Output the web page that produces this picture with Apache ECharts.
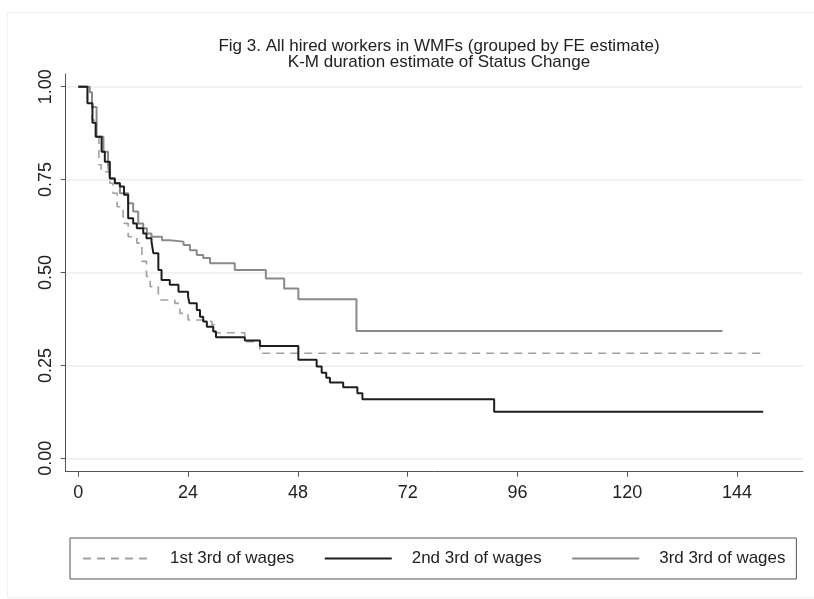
<!DOCTYPE html>
<html>
<head>
<meta charset="utf-8">
<script src="https://cdn.jsdelivr.net/npm/echarts@6/dist/echarts.min.js"></script>
<style>
html,body{margin:0;padding:0;background:#fff;}
#chart{width:814px;height:599px;}
</style>
</head>
<body>
<div id="chart"></div>
<script>
const titleLines = ['Fig 3. All hired workers in WMFs (grouped by FE estimate)', 'K-M duration estimate of Status Change'];
const seriesNames = ['1st 3rd of wages', '2nd 3rd of wages', '3rd 3rd of wages'];
const xTicks = [0, 24, 48, 72, 96, 120, 144];
const yTicks = [0, 0.25, 0.5, 0.75, 1];

// [time (months), survival]
const first = [[0,1],[2,0.96],[3,0.91],[3.8,0.87],[4.5,0.79],[5,0.771],[6.9,0.74],[7.6,0.713],[8.5,0.677],[9.8,0.632],[10.9,0.596],[12.8,0.579],[13.9,0.53],[14.9,0.489],[15.7,0.462],[17.5,0.435],[17.9,0.426],[21.1,0.417],[22.2,0.39],[24,0.372],[28.1,0.368],[29.2,0.359],[29.9,0.338],[36.4,0.314],[39.7,0.2825],[149.7,0.2825]];
const second = [[0,1],[2,0.955],[3.1,0.903],[3.8,0.865],[5.1,0.825],[5.8,0.798],[6.9,0.753],[8,0.74],[9.1,0.731],[10,0.709],[10.9,0.646],[12,0.632],[12.8,0.619],[14.2,0.605],[14.9,0.592],[16,0.583],[16.4,0.552],[17.5,0.507],[18.2,0.48],[20,0.467],[21.9,0.448],[24,0.435],[24.3,0.417],[25.9,0.399],[26.6,0.381],[27.3,0.368],[28.1,0.354],[29.5,0.341],[30.1,0.326],[36.4,0.317],[39.7,0.302],[48.1,0.265],[52.1,0.247],[53.2,0.23],[54.2,0.217],[55,0.204],[57.9,0.191],[61,0.175],[62.1,0.159],[90.9,0.125],[149.7,0.125]];
const third = [[0,1],[2.5,0.985],[3,0.945],[4,0.865],[5.5,0.825],[6.5,0.79],[6.9,0.753],[8,0.74],[9.1,0.713],[10.9,0.686],[12,0.664],[13.1,0.632],[14.2,0.619],[15,0.605],[16,0.596],[18.3,0.587],[20,0.583],[23,0.574],[24.4,0.56],[25.9,0.547],[27.3,0.539],[28.8,0.525],[34.2,0.507],[41,0.484],[45,0.457],[48.1,0.428],[60.8,0.3425],[140.8,0.3425]];

const chart = echarts.init(document.getElementById('chart'), null, {renderer: 'canvas'});
const FONT = '"Liberation Sans", Arial, Helvetica, sans-serif';

chart.setOption({
  backgroundColor: '#ffffff',
  animation: false,
  graphic: [{
    type: 'rect', left: 5, top: 10, shape: {width: 808, height: 585},
    style: {fill: 'none', stroke: '#eef2f4', lineWidth: 1}, silent: true, z: -10
  }],
  title: {
    text: titleLines.join('\n'),
    left: 434, top: 34, textAlign: 'center',
    textStyle: {fontFamily: FONT, fontSize: 17, fontWeight: 'normal', color: '#222', lineHeight: 15.5}
  },
  grid: {left: 65.7, right: 11, top: 74, bottom: 127.3, containLabel: false},
  xAxis: {
    type: 'value', min: -2.75, max: 158.4,
    axisLine: {show: true, onZero: false, lineStyle: {color: '#555', width: 1}},
    axisTick: {show: true, length: 5, customValues: xTicks, lineStyle: {color: '#555'}},
    axisLabel: {customValues: xTicks, fontFamily: FONT, fontSize: 18, color: '#222', margin: 12},
    splitLine: {show: false}
  },
  yAxis: {
    type: 'value', min: -0.036, max: 1.034,
    axisLine: {show: true, onZero: false, lineStyle: {color: '#555', width: 1}},
    axisTick: {show: true, length: 5, customValues: yTicks, lineStyle: {color: '#555'}},
    axisLabel: {customValues: yTicks, rotate: 90, fontFamily: FONT, fontSize: 18, color: '#222', margin: 11,
      formatter: v => v.toFixed(2)},
    splitLine: {show: true, lineStyle: {color: '#e8eff1', width: 1.5}}
  },
  legend: {
    data: seriesNames,
    left: 70, top: 538,
    orient: 'horizontal',
    itemWidth: 67, itemHeight: 14, itemGap: 29.5,
    padding: [12, 11, 12, 12],
    borderColor: '#555', borderWidth: 1,
    itemStyle: {opacity: 0},
    textStyle: {fontFamily: FONT, fontSize: 16.95, color: '#222', padding: [0, 0, 0, 15]}
  },
  series: [
    {name: seriesNames[0], type: 'line', step: 'end', data: first, symbol: 'none',
      lineStyle: {color: '#a0a0a0', width: 1.6, type: [8, 6]}, itemStyle: {color: '#a0a0a0'}, z: 2},
    {name: seriesNames[1], type: 'line', step: 'end', data: second, symbol: 'none',
      lineStyle: {color: '#1e1e1e', width: 2}, itemStyle: {color: '#1e1e1e'}, z: 3},
    {name: seriesNames[2], type: 'line', step: 'end', data: third, symbol: 'none',
      lineStyle: {color: '#8a8a8a', width: 2}, itemStyle: {color: '#8a8a8a'}, z: 2}
  ]
});
</script>
</body>
</html>
